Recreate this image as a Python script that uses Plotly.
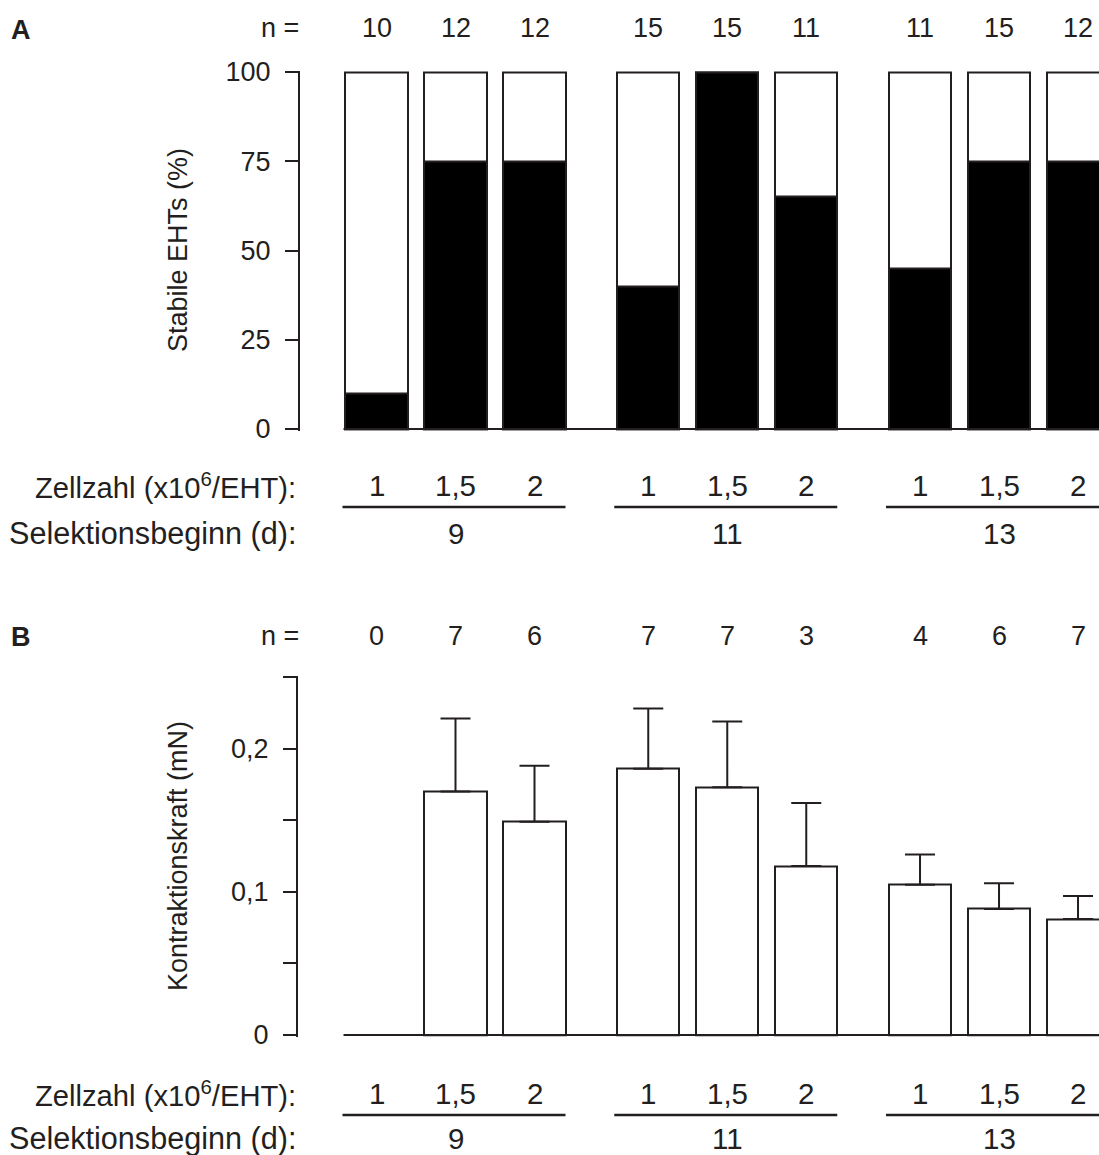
import plotly.graph_objects as go

# ---- data -------------------------------------------------------------
zellzahl_labels = ["1", "1,5", "2"]          # cell number per EHT (x10^6)
selektion_labels = ["9", "11", "13"]         # start of selection (day)

n_stabil = [10, 12, 12, 15, 15, 11, 11, 15, 12]
stabil_pct = [10, 75, 75, 40, 100, 65, 45, 75, 75]

n_kraft = [0, 7, 6, 7, 7, 3, 4, 6, 7]
kraft_mean = [0, 0.170, 0.149, 0.186, 0.173, 0.118, 0.105, 0.088, 0.081]
kraft_sem = [0, 0.051, 0.039, 0.042, 0.046, 0.044, 0.021, 0.018, 0.016]

ticks_a = [0, 25, 50, 75, 100]
ticks_b = [0, 0.1, 0.2]
ticks_b_labels = ["0", "0,1", "0,2"]
ticks_b_minor = [0.05, 0.15, 0.25]

# ---- layout constants (pixels) -----------------------------------------
W, H = 1099, 1155
INK = "#231f20"
FONT = "Liberation Sans, Arial, Helvetica, sans-serif"
FS = 27          # ticks, n row, axis titles
FS_CAT = 29.5    # category values below the axes
FS_ZELL = 29.2   # "Zellzahl" row caption
FS_SEL = 30.6    # "Selektionsbeginn" row caption

X0_PX = 376.5        # pixel centre of the first bar
UNIT_PX = 79.0       # pixels per x unit
GROUP_STEP = 3.44    # x distance between groups
BAR_W = 0.785        # bar width in x units

positions = [g * GROUP_STEP + i for g in range(3) for i in range(3)]


def xpx(p):
    return X0_PX + UNIT_PX * p


def fx(px):
    return px / W


def fy(py):
    return 1 - py / H


# panel geometry: axis line x, pixel of y max, pixel of y min
PANELS = {
    "A": dict(axis_x=300, top=72, bottom=429, ymax=100.0,
              n_y=28, zell_y=485, line_y=507, sel_y=533, letter_y=30),
    "B": dict(axis_x=298, top=677, bottom=1035, ymax=0.25,
              n_y=636, zell_y=1093, line_y=1115, sel_y=1138, letter_y=637),
}

fig = go.Figure()

# Panel A: full-height outlined bars with black fraction of stable EHTs
fig.add_trace(go.Bar(
    x=positions, y=[100] * len(positions), width=BAR_W,
    marker=dict(color="white", line=dict(color=INK, width=2)),
    xaxis="x", yaxis="y", showlegend=False, hoverinfo="skip",
))
fig.add_trace(go.Bar(
    x=positions, y=stabil_pct, width=BAR_W,
    marker=dict(color="black", line=dict(color=INK, width=2)),
    xaxis="x", yaxis="y", showlegend=False,
))

# Panel B: contraction force, mean + upper SEM (no outline for empty groups)
fig.add_trace(go.Bar(
    x=positions, y=kraft_mean, width=BAR_W,
    marker=dict(color="white",
                line=dict(color=INK, width=[0 if v == 0 else 2 for v in kraft_mean])),
    error_y=dict(type="data", symmetric=False, array=kraft_sem,
                 arrayminus=[0] * len(kraft_sem),
                 color=INK, thickness=2, width=15),
    xaxis="x2", yaxis="y2", showlegend=False,
))

annotations = []
shapes = []


def text(x, y, s, anchor="center", size=FS, angle=0):
    annotations.append(dict(x=x, y=y, xref="paper", yref="paper", text=s,
                            showarrow=False, xanchor=anchor, yanchor="middle",
                            textangle=angle,
                            font=dict(family=FONT, size=size, color=INK)))


for key, xa, ya in (("A", "xaxis", "yaxis"), ("B", "xaxis2", "yaxis2")):
    P = PANELS[key]
    pad = 1.5  # keep outlines at the range ends from being clipped
    ppu = (P["bottom"] - P["top"]) / P["ymax"]
    y_lo = -pad / ppu
    y_hi = P["ymax"] + pad / ppu
    dom = [fy(P["bottom"] + pad), fy(P["top"] - pad)]
    xr = [(P["axis_x"] - X0_PX) / UNIT_PX, (W - X0_PX) / UNIT_PX]
    fig.update_layout(**{
        xa: dict(domain=[fx(P["axis_x"]), 1], range=xr, visible=False,
                 automargin=False, anchor=ya.replace("axis", "")),
        ya: dict(domain=dom, range=[y_lo, y_hi], automargin=False,
                 anchor=xa.replace("axis", ""),
                 showline=True, linecolor=INK, linewidth=2,
                 ticks="outside", ticklen=13, tickwidth=2, tickcolor=INK,
                 showgrid=False, zeroline=False, ticklabelstandoff=9,
                 tickfont=dict(family=FONT, size=FS, color=INK)),
    })

    # panel letter and "n =" row
    text(fx(9), fy(P["letter_y"]), "<b>%s</b>" % key, anchor="left", size=FS)
    text(fx(301), fy(P["n_y"]), "n =", anchor="right")
    ns = n_stabil if key == "A" else n_kraft
    for p, n in zip(positions, ns):
        text(fx(xpx(p)), fy(P["n_y"]), str(n))

    # category rows
    text(fx(298), fy(P["zell_y"]), "Zellzahl (x10<sup>6</sup>/EHT):",
         anchor="right", size=FS_ZELL)
    text(fx(298), fy(P["sel_y"]), "Selektionsbeginn (d):", anchor="right", size=FS_SEL)
    for g in range(3):
        for i in range(3):
            text(fx(xpx(g * GROUP_STEP + i)), fy(P["zell_y"]), zellzahl_labels[i],
                 size=FS_CAT)
        text(fx(xpx(g * GROUP_STEP + 1)), fy(P["sel_y"]), selektion_labels[g],
             size=FS_CAT)
        x_left = xpx(g * GROUP_STEP) - UNIT_PX * BAR_W / 2 - 3
        x_right = min(xpx(g * GROUP_STEP + 2) + UNIT_PX * BAR_W / 2, W)
        shapes.append(dict(type="line", xref="paper", yref="paper",
                           x0=fx(x_left), x1=fx(x_right),
                           y0=fy(P["line_y"]), y1=fy(P["line_y"]),
                           line=dict(color=INK, width=2.5)))

    # baseline from the first bar to the right edge
    x_start = xpx(0) - UNIT_PX * BAR_W / 2 - 2
    shapes.append(dict(type="line", xref="paper", yref="paper",
                       x0=fx(x_start), x1=1, y0=fy(P["bottom"]), y1=fy(P["bottom"]),
                       line=dict(color=INK, width=2)))

# y-axis titles
text(fx(178), fy(250), "Stabile EHTs (%)", angle=-90)
text(fx(178), fy(856), "Kontraktionskraft (mN)", angle=-90)

fig.update_layout(
    template="none",
    width=W, height=H,
    margin=dict(l=0, r=0, t=0, b=0, pad=0, autoexpand=False),
    paper_bgcolor="white", plot_bgcolor="white",
    barmode="overlay", bargap=0, showlegend=False,
    annotations=annotations, shapes=shapes,
    font=dict(family=FONT, color=INK),
)
fig.update_layout(
    yaxis=dict(tickvals=ticks_a, ticktext=[str(v) for v in ticks_a]),
    yaxis2=dict(tickvals=ticks_b, ticktext=ticks_b_labels,
                minor=dict(tickvals=ticks_b_minor, ticks="outside", ticklen=13,
                           tickwidth=2, tickcolor=INK, showgrid=False)),
)

fig.write_html("out.html")
